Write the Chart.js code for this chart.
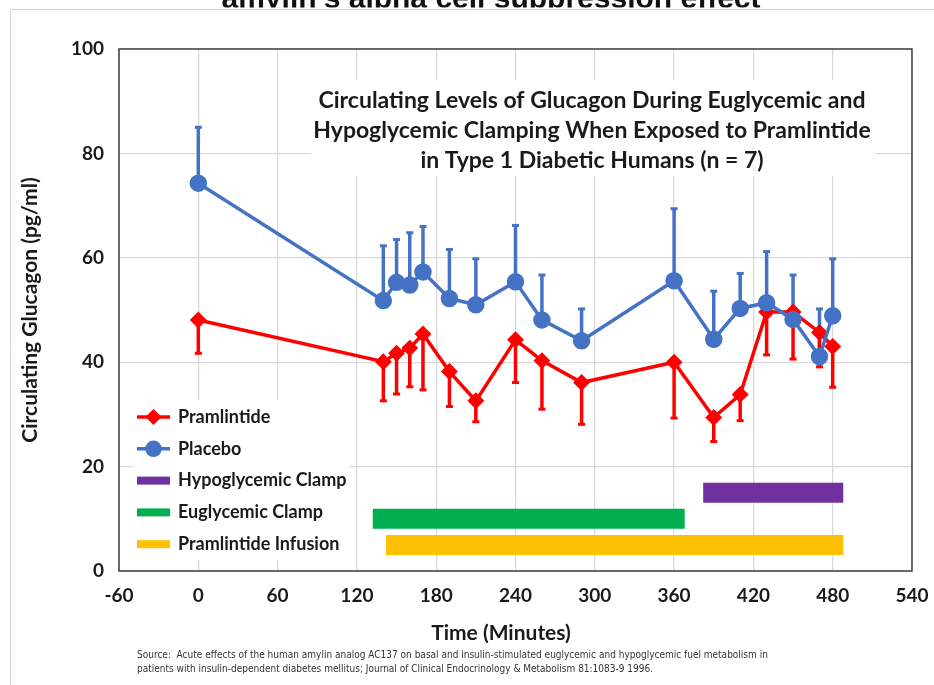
<!DOCTYPE html>
<html>
<head>
<meta charset="utf-8">
<title>Glucagon - Pramlintide vs Placebo</title>
<script src="https://cdn.jsdelivr.net/npm/chart.js@4.4.0/dist/chart.umd.min.js"></script>
<style>
    html, body { margin: 0; padding: 0; background: #fff; }
    #wrap { position: relative; width: 934px; height: 685px; }
</style>
</head>
<body>
<div id="wrap"><canvas id="glucagonChart" width="934" height="685"></canvas></div>
<script>
// time points (minutes)
const times = [0, 140, 150, 160, 170, 190, 210, 240, 260, 290, 360, 390, 410, 430, 450, 470, 480];

// glucagon pg/ml
const placebo = [74.3, 51.8, 55.3, 54.8, 57.3, 52.2, 51.0, 55.4, 48.1, 44.1, 55.6, 44.4, 50.3, 51.4, 48.2, 41.1, 48.9];
const placeboErrTop = [85.0, 62.3, 63.5, 64.8, 66.0, 61.6, 59.8, 66.2, 56.7, 50.2, 69.4, 53.6, 57.0, 61.2, 56.7, 50.2, 59.8];
const pramlintide = [48.1, 40.1, 41.7, 42.7, 45.4, 38.2, 32.6, 44.3, 40.3, 36.1, 40.0, 29.4, 33.8, 49.6, 49.6, 45.7, 43.0];
const pramlintideErrBottom = [41.7, 32.6, 33.9, 35.3, 34.7, 31.5, 28.6, 36.1, 31.0, 28.1, 29.3, 24.8, 28.8, 41.4, 40.6, 39.1, 35.2];

// phase bars (start / end minute, level on y axis)
const phaseNames = ['Hypoglycemic Clamp', 'Euglycemic Clamp', 'Pramlintide Infusion'];
const phaseStart = [382, 132, 142];
const phaseEnd = [488, 368, 488];
const phaseLevel = [15, 10, 5];

// tick labels
const xTicks = [-60, 0, 60, 120, 180, 240, 300, 360, 420, 480, 540];
const yTicks = [0, 20, 40, 60, 80, 100];

const chartTitle = [
    'Circulating Levels of Glucagon During Euglycemic and',
    'Hypoglycemic Clamping When Exposed to Pramlintide',
    'in Type 1 Diabetic Humans (n = 7)'
];
const xTitle = 'Time (Minutes)';
const sourceText = [
    'Source:  Acute effects of the human amylin analog AC137 on basal and insulin-stimulated euglycemic and hypoglycemic fuel metabolism in',
    'patients with insulin-dependent diabetes mellitus; Journal of Clinical Endocrinology & Metabolism 81:1083-9 1996.'
];
const slideTitle = "amylin's alpha cell suppression effect";

const RED = '#ff0000';
const BLUE = '#4472c4';
const phaseColors = ['#7030a0', '#00b050', '#ffc000'];
const FONT = 'Lato, "Open Sans", sans-serif';
const TEXT = '#1a1a1a';

function toPoints(xs, ys) {
    return xs.map((x, i) => ({ x: x, y: ys[i] }));
}

const datasets = [];
// placebo first so it sits on top of pramlintide
datasets.push({
    label: 'Placebo',
    data: toPoints(times, placebo),
    errorEnds: placeboErrTop,
    borderColor: BLUE,
    backgroundColor: BLUE,
    borderWidth: 3.5,
    pointStyle: 'circle',
    pointRadius: 7,
    pointHoverRadius: 7,
    tension: 0
});
datasets.push({
    label: 'Pramlintide',
    data: toPoints(times, pramlintide),
    errorEnds: pramlintideErrBottom,
    borderColor: RED,
    backgroundColor: RED,
    borderWidth: 3.5,
    pointStyle: 'rectRot',
    pointRadius: 6,
    pointHoverRadius: 6,
    tension: 0
});
phaseNames.forEach((name, i) => {
    datasets.push({
        label: name,
        data: [{ x: phaseStart[i], y: phaseLevel[i] }, { x: phaseEnd[i], y: phaseLevel[i] }],
        borderColor: phaseColors[i],
        backgroundColor: phaseColors[i],
        borderWidth: 20,
        borderCapStyle: 'butt',
        pointRadius: 0,
        pointHoverRadius: 0,
        isPhase: true
    });
});

////// Plugins ////////

// slide frame + cut-off slide title + x title + source note
const slideFrame = {
    id: 'slideFrame',
    beforeDraw(chart) {
        const ctx = chart.ctx;
        ctx.save();
        ctx.fillStyle = '#fff';
        ctx.fillRect(0, 0, chart.width, chart.height);

        // only the lower part of the slide title shows
        ctx.save();
        ctx.beginPath();
        ctx.rect(0, 0, chart.width, 7.5);
        ctx.clip();
        ctx.fillStyle = '#111';
        ctx.font = 'bold 30px "Liberation Sans", Arial, sans-serif';
        ctx.textAlign = 'center';
        ctx.textBaseline = 'alphabetic';
        ctx.fillText(slideTitle, 491, 7.5);
        ctx.restore();

        ctx.strokeStyle = '#d4d4d4';
        ctx.lineWidth = 1;
        ctx.beginPath();
        ctx.moveTo(10.5, chart.height);
        ctx.lineTo(10.5, 9.5);
        ctx.lineTo(chart.width, 9.5);
        ctx.stroke();
        ctx.restore();
    },
    afterDraw(chart) {
        const ctx = chart.ctx;
        ctx.save();
        // x axis title sits a bit left of the plot centre in the original
        ctx.fillStyle = TEXT;
        ctx.font = 'bold 21px ' + FONT;
        ctx.textAlign = 'center';
        ctx.textBaseline = 'middle';
        ctx.fillText(xTitle, 501, 633);

        ctx.fillStyle = '#333';
        ctx.font = '10px "Liberation Sans Narrow", "DejaVu Sans Condensed", sans-serif';
        ctx.textAlign = 'left';
        sourceText.forEach((line, i) => ctx.fillText(line, 137, 655 + i * 14));
        ctx.restore();
    }
};

// white boxes under the title and legend hide the gridlines
const boxesAndErrors = {
    id: 'boxesAndErrors',
    beforeDatasetsDraw(chart) {
        const ctx = chart.ctx;
        const xs = chart.scales.x;
        const ys = chart.scales.y;
        ctx.save();
        ctx.fillStyle = '#fff';
        ctx.fillRect(311, 80, 564, 96);
        ctx.fillRect(133, 400, 217, 160);

        // one-sided error bars
        chart.data.datasets.forEach((ds, i) => {
            if (!ds.errorEnds) return;
            ctx.strokeStyle = ds.borderColor;
            ctx.fillStyle = ds.borderColor;
            ctx.lineWidth = 3.5;
            ds.data.forEach((p, j) => {
                const px = xs.getPixelForValue(p.x);
                const py = ys.getPixelForValue(p.y);
                const pe = ys.getPixelForValue(ds.errorEnds[j]);
                ctx.beginPath();
                ctx.moveTo(px, py);
                ctx.lineTo(px, pe);
                ctx.stroke();
                ctx.fillRect(px - 3.5, pe - 1.5, 7, 3);
            });
        });
        ctx.restore();
    },
    afterDatasetsDraw(chart) {
        const ctx = chart.ctx;
        const a = chart.chartArea;
        ctx.save();
        // plot border
        ctx.strokeStyle = '#404040';
        ctx.lineWidth = 1.5;
        ctx.strokeRect(a.left, a.top, a.right - a.left, a.bottom - a.top);

        // chart title inside plot
        ctx.fillStyle = TEXT;
        ctx.font = 'bold 23px ' + FONT;
        ctx.textAlign = 'center';
        ctx.textBaseline = 'middle';
        chartTitle.forEach((line, i) => ctx.fillText(line, 592, 101 + i * 30));
        ctx.restore();
    }
};

// legend drawn inside the plot, bottom-left
const insideLegend = {
    id: 'insideLegend',
    afterDatasetsDraw(chart) {
        const ctx = chart.ctx;
        const byLabel = {};
        chart.data.datasets.forEach(ds => { byLabel[ds.label] = ds; });
        const order = ['Pramlintide', 'Placebo'].concat(phaseNames);
        ctx.save();
        ctx.font = 'bold 18px ' + FONT;
        ctx.textBaseline = 'middle';
        ctx.textAlign = 'left';
        order.forEach((label, i) => {
            const ds = byLabel[label];
            const y = 417 + i * 31.8;
            const x0 = 137, x1 = 170;
            if (ds.isPhase) {
                ctx.fillStyle = ds.borderColor;
                ctx.fillRect(x0, y - 4, x1 - x0, 8);
            } else {
                ctx.strokeStyle = ds.borderColor;
                ctx.lineWidth = 3.5;
                ctx.beginPath();
                ctx.moveTo(x0, y);
                ctx.lineTo(x1, y);
                ctx.stroke();
                Chart.helpers.drawPoint(ctx, {
                    pointStyle: ds.pointStyle,
                    radius: ds.pointStyle === 'circle' ? 6.5 : 5.5,
                    borderWidth: 1,
                    rotation: 0
                }, (x0 + x1) / 2, y);
                ctx.fillStyle = ds.borderColor;
                ctx.fill();
            }
            ctx.fillStyle = TEXT;
            ctx.fillText(label, 178, y);
        });
        ctx.restore();
    }
};

const tickFont = { family: FONT, size: 19, weight: 'bold' };

new Chart(document.getElementById('glucagonChart'), {
    type: 'line',
    data: { datasets: datasets },
    options: {
        responsive: false,
        devicePixelRatio: 1,
        animation: false,
        events: [],
        layout: { padding: { left: 0, top: 49, right: 22, bottom: 0 } },
        plugins: {
            legend: { display: false },
            tooltip: { enabled: false },
            title: { display: false }
        },
        scales: {
            x: {
                type: 'linear',
                min: -60,
                max: 540,
                afterBuildTicks: s => { s.ticks = xTicks.map(v => ({ value: v })); },
                afterFit: s => {
                    s.height = 114;
                    s.paddingLeft = 0;
                    s.paddingRight = 0;
                },
                grid: { color: '#d9d9d9', lineWidth: 1.3, drawTicks: false },
                border: { display: false },
                ticks: { padding: 13, font: tickFont, color: TEXT, maxRotation: 0, autoSkip: false }
            },
            y: {
                type: 'linear',
                min: 0,
                max: 100,
                afterBuildTicks: s => { s.ticks = yTicks.map(v => ({ value: v })); },
                afterFit: s => { s.width = 119; },
                grid: { color: '#d9d9d9', lineWidth: 1.3, drawTicks: false },
                border: { display: false },
                ticks: { padding: 15, font: tickFont, color: TEXT },
                title: {
                    display: true,
                    text: 'Circulating Glucagon (pg/ml)',
                    color: TEXT,
                    font: { family: FONT, size: 21, weight: 'bold' },
                    padding: { top: 18, bottom: 0 }
                }
            }
        }
    },
    plugins: [slideFrame, boxesAndErrors, insideLegend]
});
</script>
</body>
</html>
